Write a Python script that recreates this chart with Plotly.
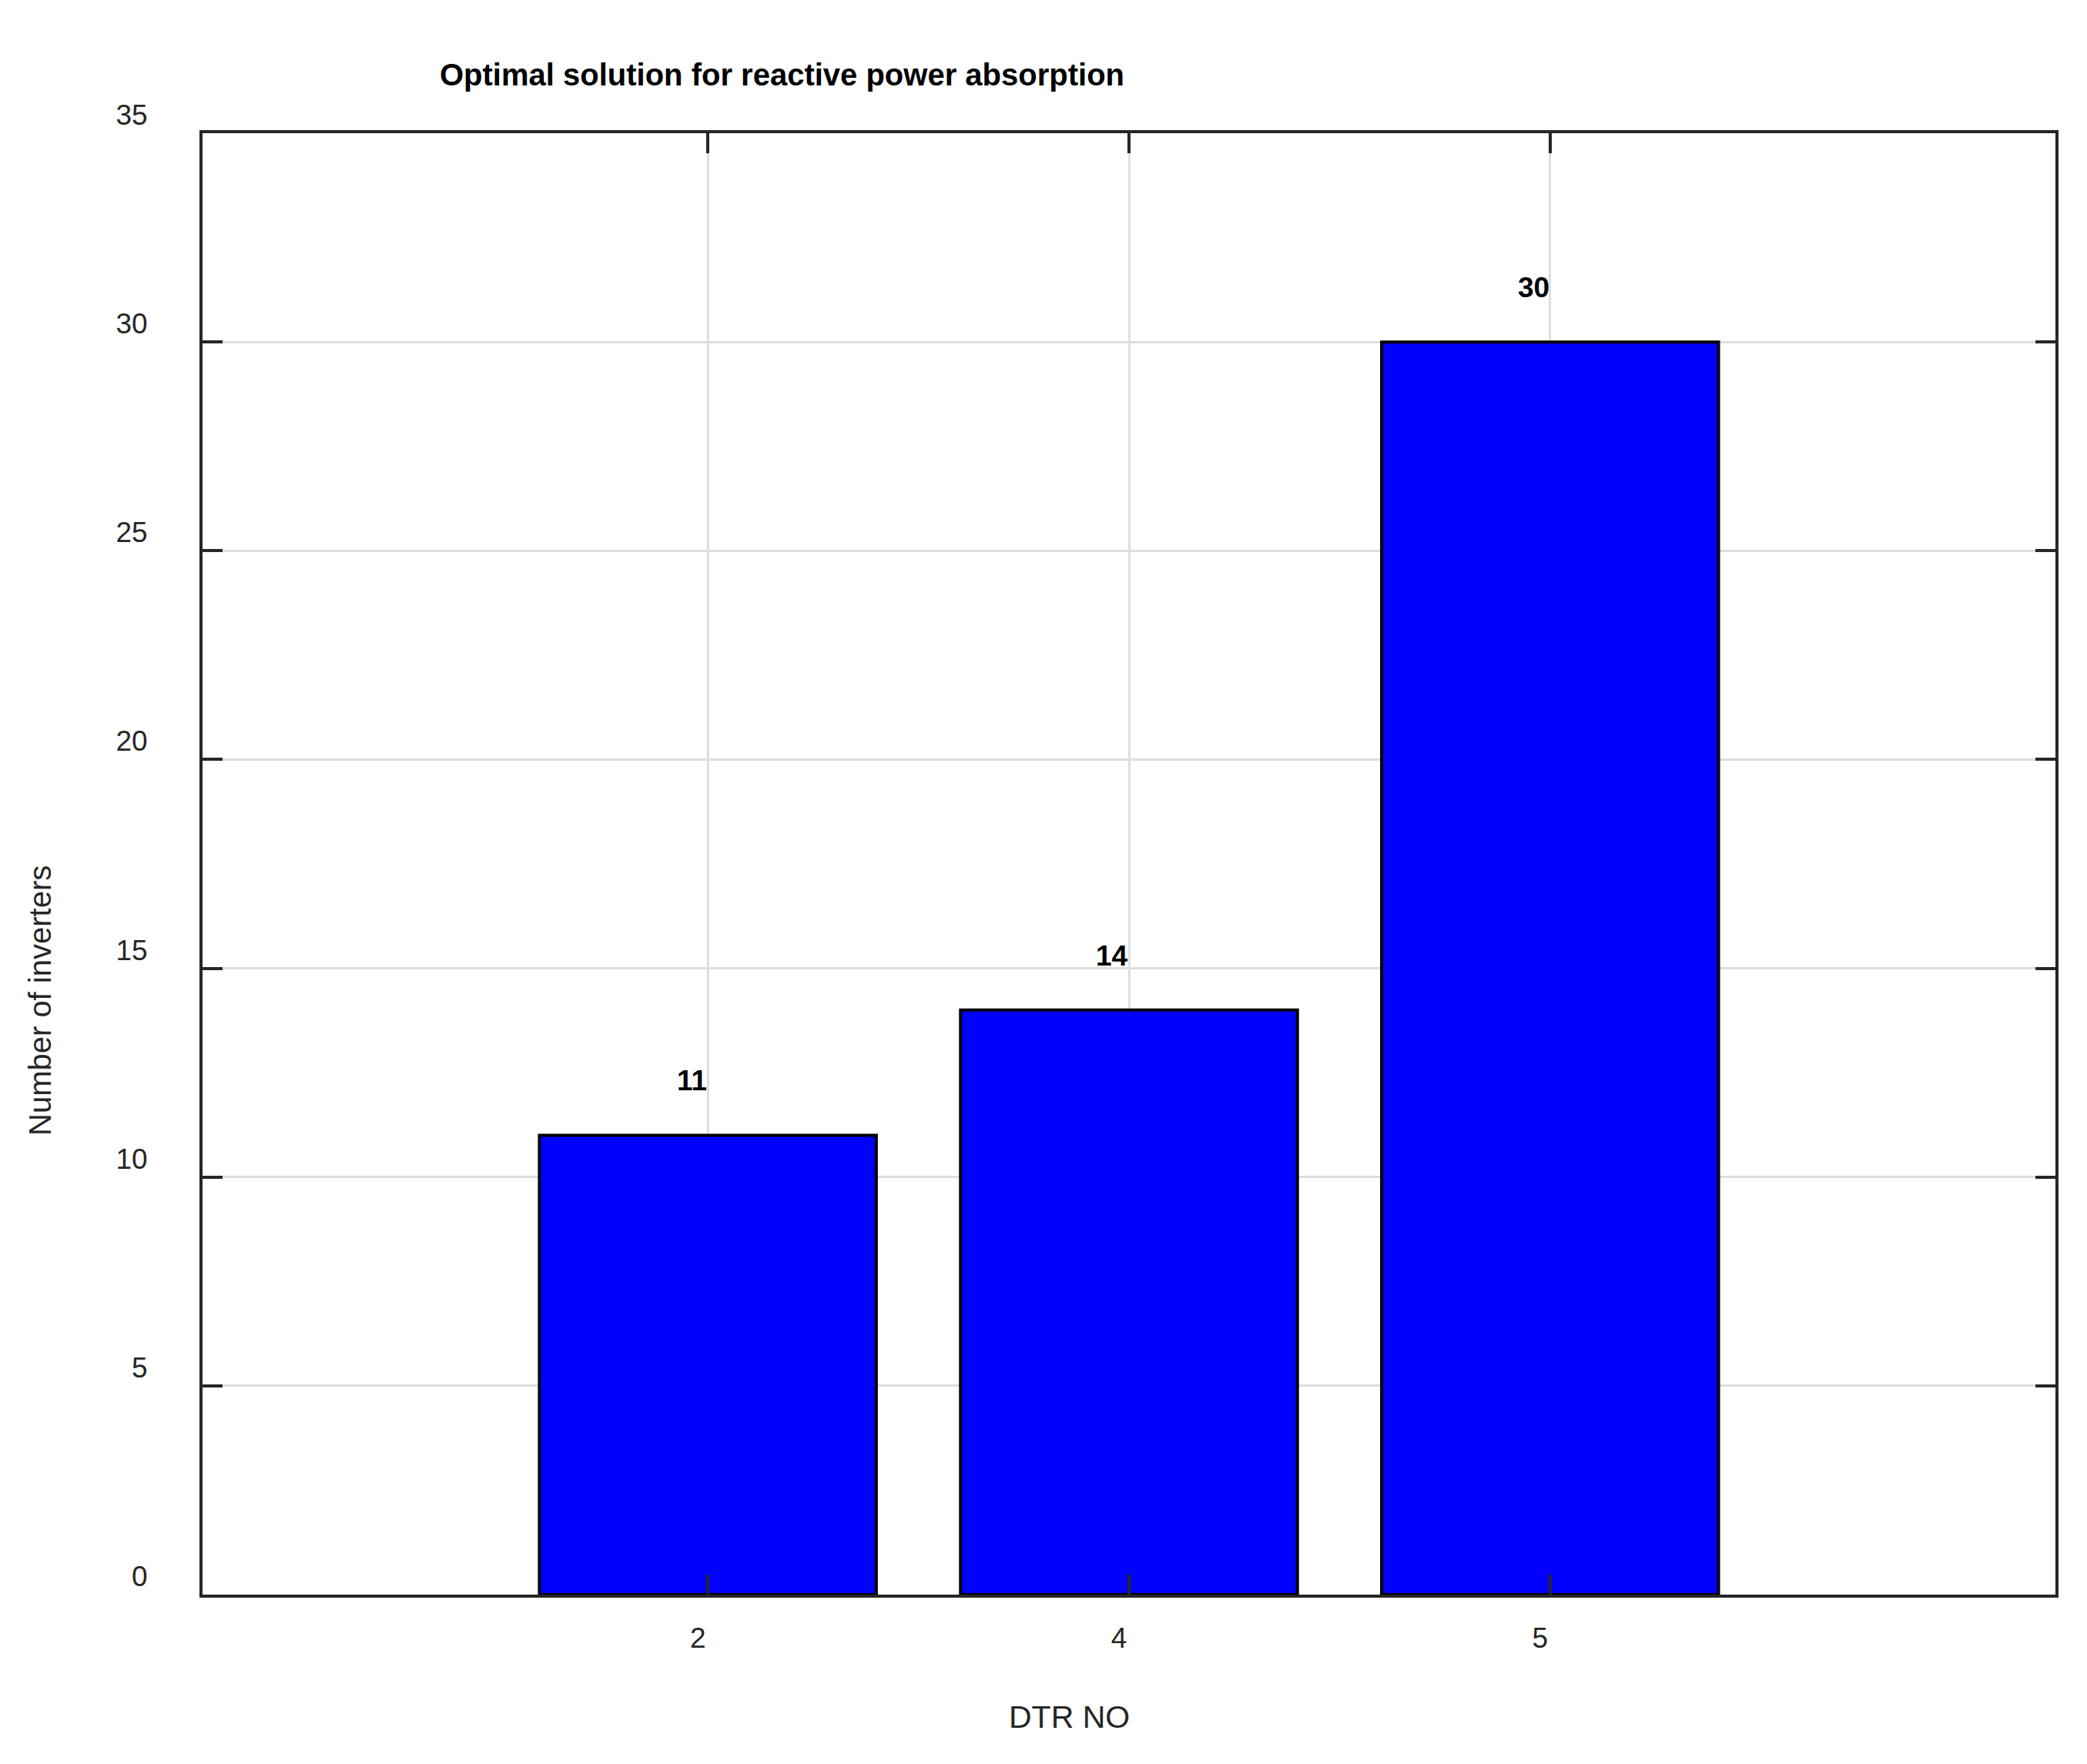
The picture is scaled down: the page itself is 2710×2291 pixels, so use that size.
import plotly.graph_objects as go

categories = ["2", "4", "5"]
values = [11, 14, 30]
y_ticks = [0, 5, 10, 15, 20, 25, 30, 35]
title_text = "Optimal solution for reactive power absorption"
x_title = "DTR NO"
y_title = "Number of inverters"

FONT = "Liberation Sans, Arial, Helvetica, sans-serif"
AXIS_COLOR = "#262626"

fig = go.Figure()
fig.add_trace(go.Bar(
    x=categories, y=values, width=0.8,
    marker=dict(color="#0000FF", line=dict(color="#000000", width=4)),
    showlegend=False, hoverinfo="skip",
))

annotations = []
for i, v in enumerate(values):
    annotations.append(dict(
        x=i, y=v + 1, xref="x", yref="y", text=str(v), showarrow=False,
        xanchor="right", yanchor="bottom", xshift=1, yshift=-6,
        font=dict(family=FONT, size=37, color="#000000", weight="bold"),
    ))

annotations.append(dict(
    x=(1015 - 263) / 2406, y=(2071 - 97) / 1898, xref="paper", yref="paper",
    text=title_text, showarrow=False, xanchor="center", yanchor="middle",
    font=dict(family=FONT, size=40, color="#000000", weight="bold"),
))
annotations.append(dict(
    x=(1388 - 263) / 2406, y=(2071 - 2230) / 1898, xref="paper", yref="paper",
    text=x_title, showarrow=False, xanchor="center", yanchor="middle",
    font=dict(family=FONT, size=41, color=AXIS_COLOR),
))
annotations.append(dict(
    x=(52 - 263) / 2406, y=(2071 - 1300) / 1898, xref="paper", yref="paper",
    text=y_title, showarrow=False, xanchor="center", yanchor="middle", textangle=-90,
    font=dict(family=FONT, size=40, color=AXIS_COLOR),
))

fig.update_layout(
    width=2710, height=2291,
    margin=dict(l=255, r=49, t=165, b=228),
    paper_bgcolor="white", plot_bgcolor="white",
    annotations=annotations,
    bargap=0.2,
)
fig.update_xaxes(
    type="category", range=[-1.2, 3.2],
    showline=True, linecolor=AXIS_COLOR, linewidth=4, mirror="ticks",
    ticks="inside", ticklen=26, tickwidth=4, tickcolor=AXIS_COLOR,
    showgrid=True, gridcolor="#dedede", gridwidth=3,
    tickfont=dict(family=FONT, size=37, color=AXIS_COLOR),
    ticklabelshift=-13, ticklabelstandoff=21,
    zeroline=False,
)
fig.update_yaxes(
    range=[0, 35], tickvals=y_ticks, ticktext=[str(t) for t in y_ticks],
    showline=True, linecolor=AXIS_COLOR, linewidth=4, mirror="ticks",
    ticks="inside", ticklen=26, tickwidth=4, tickcolor=AXIS_COLOR,
    showgrid=True, gridcolor="#dedede", gridwidth=3,
    tickfont=dict(family=FONT, size=37, color=AXIS_COLOR),
    ticklabelshift=-24, ticklabelstandoff=60,
    zeroline=False,
)

fig.write_html("out.html")
